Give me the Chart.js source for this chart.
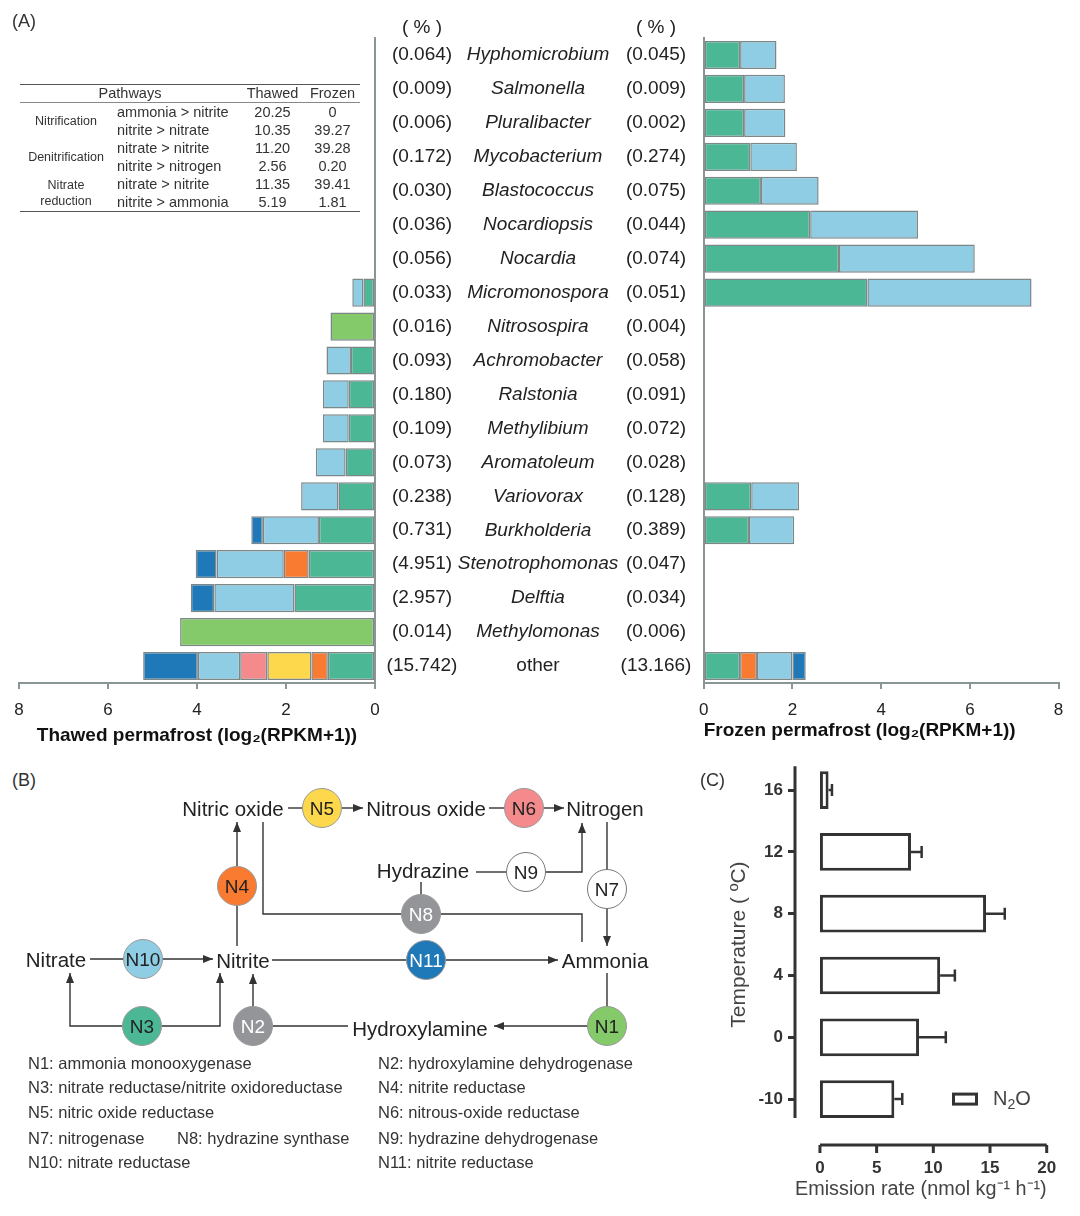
<!DOCTYPE html>
<html>
<head>
<meta charset="utf-8">
<script src="https://cdn.jsdelivr.net/npm/chart.js@4.4.1/dist/chart.umd.min.js"></script>
<style>
body { margin: 0; background: #fff; font-family: "Liberation Sans", Arial, sans-serif; color: #222; }
#wrap { position: relative; width: 1080px; height: 1216px; overflow: hidden; }
canvas { position: absolute; }
.panel { position: absolute; font-size: 18px; color: #333; }
#tbl { position: absolute; left: 20px; top: 84px; width: 340px; border-collapse: collapse; font-size: 14.5px; color: #333; z-index: 2; table-layout: fixed; border-bottom: 1.5px solid #555; }
#tbl th { font-weight: normal; height: 17px; line-height: 17px; padding: 0; border-top: 1.5px solid #555; border-bottom: 0.8px solid #888; }
#tbl td { height: 18px; line-height: 18px; padding: 0; text-align: center; white-space: nowrap; }
#tbl td.step { text-align: left; padding-left: 5px; }
#tbl td.grp { font-size: 12.5px; line-height: 16px; white-space: pre-line; vertical-align: middle; }
#diag { position: absolute; left: 0; top: 0; z-index: 3; }
</style>
</head>
<body>
<div id="wrap">
  <canvas id="thawed" width="695" height="760" style="left:0;top:0"></canvas>
  <canvas id="frozen" width="392" height="760" style="left:688px;top:0"></canvas>
  <canvas id="emis" width="380" height="472" style="left:700px;top:744px"></canvas>
  <div class="panel" style="left:12px;top:11px">(A)</div>
  <div class="panel" style="left:12px;top:770px">(B)</div>
  <div class="panel" style="left:700px;top:770px">(C)</div>
  <table id="tbl">
    <colgroup><col style="width:92px"><col style="width:128px"><col style="width:65px"><col style="width:55px"></colgroup>
    <thead><tr><th colspan="2">Pathways</th><th>Thawed</th><th>Frozen</th></tr></thead>
    <tbody id="tbody"></tbody>
  </table>

  <svg id="diag" width="690" height="1216" font-family="Liberation Sans, Arial, sans-serif">
    <defs>
      <marker id="ah" viewBox="0 0 10 8" refX="10" refY="4" markerWidth="10" markerHeight="8" markerUnits="userSpaceOnUse" orient="auto">
        <path d="M0,0L10,4L0,8z" fill="#333"/>
      </marker>
    </defs>
    <g stroke="#333" stroke-width="1.4" fill="none">
      <line x1="288" y1="808" x2="303" y2="808"/>
      <line x1="341" y1="808" x2="363" y2="808" marker-end="url(#ah)"/>
      <line x1="489" y1="808" x2="505" y2="808"/>
      <line x1="543" y1="808" x2="564" y2="808" marker-end="url(#ah)"/>
      <line x1="237" y1="946" x2="237" y2="906"/>
      <line x1="237" y1="866" x2="237" y2="822" marker-end="url(#ah)"/>
      <polyline points="263,822 263,914 402,914"/>
      <polyline points="440,914 582,914 582,942"/>
      <line x1="421" y1="882" x2="421" y2="895"/>
      <line x1="476" y1="872" x2="507" y2="872"/>
      <polyline points="545,872 582,872 582,823" marker-end="url(#ah)"/>
      <line x1="607" y1="822" x2="607" y2="870"/>
      <line x1="607" y1="908" x2="607" y2="946" marker-end="url(#ah)"/>
      <line x1="90" y1="959" x2="124" y2="959"/>
      <line x1="162" y1="959" x2="213" y2="959" marker-end="url(#ah)"/>
      <line x1="272" y1="960" x2="407" y2="960"/>
      <line x1="445" y1="960" x2="558" y2="960" marker-end="url(#ah)"/>
      <line x1="607" y1="973" x2="607" y2="1007"/>
      <line x1="588" y1="1026" x2="494" y2="1026" marker-end="url(#ah)"/>
      <line x1="348" y1="1026" x2="272" y2="1026"/>
      <line x1="253" y1="1007" x2="253" y2="974" marker-end="url(#ah)"/>
      <polyline points="123,1026 70,1026 70,973" marker-end="url(#ah)"/>
      <polyline points="161,1026 220,1026 220,973" marker-end="url(#ah)"/>
    </g>
    <g stroke="#999" stroke-width="1">
      <circle cx="322" cy="808" r="19.5" fill="#fdd84d"/>
      <circle cx="524" cy="808" r="19.5" fill="#f48a8c"/>
      <circle cx="237" cy="886" r="19.5" fill="#f97a31"/>
      <circle cx="421" cy="914" r="19.5" fill="#939598"/>
      <circle cx="526" cy="872" r="19.5" fill="#fff" stroke="#777"/>
      <circle cx="607" cy="889" r="19.5" fill="#fff" stroke="#777"/>
      <circle cx="143" cy="959" r="19.5" fill="#8ecde4"/>
      <circle cx="426" cy="960" r="19.5" fill="#1f78b8"/>
      <circle cx="607" cy="1026" r="19.5" fill="#84c96a"/>
      <circle cx="253" cy="1026" r="19.5" fill="#939598"/>
      <circle cx="142" cy="1026" r="19.5" fill="#4cb795"/>
    </g>
    <g font-size="19" text-anchor="middle" dominant-baseline="central" fill="#222">
      <text x="322" y="808">N5</text>
      <text x="524" y="808">N6</text>
      <text x="237" y="886">N4</text>
      <text x="421" y="914" fill="#fff">N8</text>
      <text x="526" y="872">N9</text>
      <text x="607" y="889">N7</text>
      <text x="143" y="959">N10</text>
      <text x="426" y="960" fill="#fff">N11</text>
      <text x="607" y="1026">N1</text>
      <text x="253" y="1026" fill="#fff">N2</text>
      <text x="142" y="1026">N3</text>
    </g>
    <g font-size="20.5" text-anchor="middle" dominant-baseline="central" fill="#222">
      <text x="233" y="808">Nitric oxide</text>
      <text x="426" y="808">Nitrous oxide</text>
      <text x="605" y="808">Nitrogen</text>
      <text x="423" y="870">Hydrazine</text>
      <text x="56" y="959">Nitrate</text>
      <text x="243" y="960">Nitrite</text>
      <text x="605" y="960">Ammonia</text>
      <text x="420" y="1028">Hydroxylamine</text>
    </g>
    <g font-size="16.5" dominant-baseline="central" fill="#333">
      <text x="28" y="1063">N1: ammonia monooxygenase</text>
      <text x="28" y="1087">N3: nitrate reductase/nitrite oxidoreductase</text>
      <text x="28" y="1112">N5: nitric oxide reductase</text>
      <text x="28" y="1138">N7: nitrogenase</text>
      <text x="177" y="1138">N8: hydrazine synthase</text>
      <text x="28" y="1162">N10: nitrate reductase</text>
      <text x="378" y="1063">N2: hydroxylamine dehydrogenase</text>
      <text x="378" y="1087">N4: nitrite reductase</text>
      <text x="378" y="1112">N6: nitrous-oxide reductase</text>
      <text x="378" y="1138">N9: hydrazine dehydrogenase</text>
      <text x="378" y="1162">N11: nitrite reductase</text>
    </g>
  </svg>
</div>

<script>
// ---- panel A data ----
const genera = ["Hyphomicrobium", "Salmonella", "Pluralibacter", "Mycobacterium", "Blastococcus",
  "Nocardiopsis", "Nocardia", "Micromonospora", "Nitrosospira", "Achromobacter", "Ralstonia",
  "Methylibium", "Aromatoleum", "Variovorax", "Burkholderia", "Stenotrophomonas", "Delftia",
  "Methylomonas", "other"];
const thawedShare = ["0.064", "0.009", "0.006", "0.172", "0.030", "0.036", "0.056", "0.033", "0.016",
  "0.093", "0.180", "0.109", "0.073", "0.238", "0.731", "4.951", "2.957", "0.014", "15.742"];
const frozenShare = ["0.045", "0.009", "0.002", "0.274", "0.075", "0.044", "0.074", "0.051", "0.004",
  "0.058", "0.091", "0.072", "0.028", "0.128", "0.389", "0.047", "0.034", "0.006", "13.166"];

// log2(RPKM+1), one array per enzyme
const thawedN3 = [null, null, null, null, null, null, null, 0.26, null, 0.54, 0.59, 0.59, 0.66, 0.82, 1.26, 1.49, 1.81, null, 1.06];
const thawedN4 = [null, null, null, null, null, null, null, null, null, null, null, null, null, null, null, 0.56, null, null, 0.37];
const thawedN5 = [null, null, null, null, null, null, null, null, null, null, null, null, null, null, null, null, null, null, 0.99];
const thawedN6 = [null, null, null, null, null, null, null, null, null, null, null, null, null, null, null, null, null, null, 0.61];
const thawedN10 = [null, null, null, null, null, null, null, 0.25, null, 0.55, 0.58, 0.58, 0.67, 0.84, 1.26, 1.51, 1.80, null, 0.95];
const thawedN11 = [null, null, null, null, null, null, null, null, null, null, null, null, null, null, 0.26, 0.47, 0.53, null, 1.23];
const thawedN1 = [null, null, null, null, null, null, null, null, 1.00, null, null, null, null, null, null, null, null, 4.38, null];

const frozenN3 = [0.82, 0.91, 0.91, 1.05, 1.29, 2.40, 3.05, 3.69, null, null, null, null, null, 1.07, 1.02, null, null, null, 0.82];
const frozenN4 = [null, null, null, null, null, null, null, null, null, null, null, null, null, null, null, null, null, null, 0.38];
const frozenN10 = [0.82, 0.92, 0.93, 1.05, 1.30, 2.43, 3.06, 3.70, null, null, null, null, null, 1.08, 1.02, null, null, null, 0.80];
const frozenN11 = [null, null, null, null, null, null, null, null, null, null, null, null, null, null, null, null, null, null, 0.30];

const xTicksA = [0, 2, 4, 6, 8];

// ---- pathway table ----
const pathwayGroups = ["Nitrification", "Denitrification", "Nitrate\nreduction"];
const pathwaySteps = ["ammonia > nitrite", "nitrite > nitrate", "nitrate > nitrite", "nitrite > nitrogen", "nitrate > nitrite", "nitrite > ammonia"];
const pathwayThawed = ["20.25", "10.35", "11.20", "2.56", "11.35", "5.19"];
const pathwayFrozen = ["0", "39.27", "39.28", "0.20", "39.41", "1.81"];

// ---- panel C data ----
const temps = ["16", "12", "8", "4", "0", "-10"];
const emission = [0.76, 8.03, 14.65, 10.6, 8.74, 6.56];
const emissionErr = [0.3, 0.94, 1.65, 1.3, 2.36, 0.7];
const xTicksC = [0, 5, 10, 15, 20];

const FONT = '"Liberation Sans", Arial, sans-serif';
Chart.defaults.font.family = FONT;
Chart.defaults.color = "#222";
const axisGray = "#8a9596";
const segBorder = "#7d8788";
const enzymeColor = { N3: "#4cb795", N4: "#f97a31", N5: "#fdd84d", N6: "#f48a8c", N10: "#8ecde4", N11: "#1f78b8", N1: "#84c96a" };

// table rows
const tbody = document.getElementById("tbody");
pathwaySteps.forEach((step, i) => {
  const tr = document.createElement("tr");
  if (i % 2 === 0) {
    const g = document.createElement("td");
    g.rowSpan = 2;
    g.className = "grp";
    g.textContent = pathwayGroups[i / 2];
    tr.appendChild(g);
  }
  [step, pathwayThawed[i], pathwayFrozen[i]].forEach((txt, j) => {
    const td = document.createElement("td");
    if (j === 0) td.className = "step";
    td.textContent = txt;
    tr.appendChild(td);
  });
  tbody.appendChild(tr);
});

const makeSet = (label, data) => ({
  label: label,
  data: data,
  backgroundColor: enzymeColor[label],
  borderColor: segBorder,
  borderWidth: 1.5,
  borderSkipped: false,
  barPercentage: 0.83,
  categoryPercentage: 1,
});

// genus names and percentages between the two charts
const middleLabels = {
  id: "middleLabels",
  afterDraw(chart) {
    const ctx = chart.ctx;
    const y = chart.scales.y;
    ctx.save();
    ctx.fillStyle = "#222";
    ctx.textAlign = "center";
    ctx.textBaseline = "middle";
    ctx.font = "19px " + FONT;
    ctx.fillText("( % )", 422, 28);
    ctx.fillText("( % )", 656, 28);
    genera.forEach((g, i) => {
      const py = y.getPixelForValue(i);
      ctx.font = "19px " + FONT;
      ctx.fillText("(" + thawedShare[i] + ")", 422, py);
      ctx.fillText("(" + frozenShare[i] + ")", 656, py);
      ctx.font = (g === "other" ? "" : "italic ") + "19px " + FONT;
      ctx.fillText(g, 538, py);
    });
    ctx.restore();
  },
};

const permafrostOptions = (reverse, title, padding, titleH, titleAlign) => ({
  indexAxis: "y",
  responsive: false,
  animation: false,
  layout: { padding: padding },
  plugins: { legend: { display: false }, tooltip: { enabled: false } },
  scales: {
    x: {
      stacked: true,
      reverse: reverse,
      min: 0,
      max: 8,
      afterBuildTicks: (s) => { s.ticks = xTicksA.map((v) => ({ value: v })); },
      ticks: { color: "#222", font: { size: 17 }, padding: 11 },
      grid: { drawOnChartArea: false, color: axisGray, lineWidth: 2, tickLength: 6 },
      border: { color: axisGray, width: 2 },
      title: { display: true, text: title, align: titleAlign, color: "#111", font: { size: 19, weight: "bold" }, padding: 0 },
      afterFit: (s) => { s.height = titleH; },
    },
    y: {
      stacked: true,
      position: reverse ? "right" : "left",
      ticks: { display: false },
      grid: { display: false },
      border: { color: axisGray, width: 2 },
      afterFit: (s) => { s.width = 0; },
    },
  },
});

new Chart(document.getElementById("thawed"), {
  type: "bar",
  data: {
    labels: genera,
    datasets: [
      makeSet("N3", thawedN3), makeSet("N4", thawedN4), makeSet("N5", thawedN5), makeSet("N6", thawedN6),
      makeSet("N10", thawedN10), makeSet("N11", thawedN11), makeSet("N1", thawedN1),
    ],
  },
  options: permafrostOptions(true, "Thawed permafrost (log₂(RPKM+1))", { left: 19, right: 320, top: 38, bottom: 13 }, 64, "center"),
  plugins: [middleLabels],
});

new Chart(document.getElementById("frozen"), {
  type: "bar",
  data: {
    labels: genera,
    datasets: [makeSet("N3", frozenN3), makeSet("N4", frozenN4), makeSet("N10", frozenN10), makeSet("N11", frozenN11)],
  },
  options: permafrostOptions(false, "Frozen permafrost (log₂(RPKM+1))", { left: 13, right: 21.4, top: 38, bottom: 18 }, 59, "start"),
});

// panel C: offset axes, error bars and legend
const emisExtras = {
  id: "emisExtras",
  afterDraw(chart) {
    const { ctx, chartArea: a, scales } = chart;
    const x = scales.x, y = scales.y;
    ctx.save();
    ctx.strokeStyle = "#333";
    ctx.lineWidth = 3;
    ctx.beginPath();
    ctx.moveTo(a.left, a.top + 7);
    ctx.lineTo(a.left, a.bottom - 12);
    ctx.stroke();

    const yb = a.bottom + 15;
    ctx.beginPath();
    ctx.moveTo(x.getPixelForValue(xTicksC[0]), yb);
    ctx.lineTo(x.getPixelForValue(xTicksC[xTicksC.length - 1]), yb);
    xTicksC.forEach((v) => {
      const px = x.getPixelForValue(v);
      ctx.moveTo(px, yb);
      ctx.lineTo(px, yb + 8);
    });
    ctx.stroke();

    ctx.lineWidth = 2.5;
    emission.forEach((v, i) => {
      const py = y.getPixelForValue(i);
      const x0 = x.getPixelForValue(v);
      const x1 = x.getPixelForValue(v + emissionErr[i]);
      ctx.beginPath();
      ctx.moveTo(x0, py);
      ctx.lineTo(x1, py);
      ctx.moveTo(x1, py - 6);
      ctx.lineTo(x1, py + 6);
      ctx.stroke();
    });

    // legend
    ctx.lineWidth = 3;
    const ly = y.getPixelForValue(temps.length - 1);
    ctx.strokeRect(253.5, ly - 5, 23, 10);
    ctx.fillStyle = "#444";
    ctx.textBaseline = "middle";
    ctx.font = "20px " + FONT;
    let tx = 293;
    ctx.fillText("N", tx, ly);
    tx += ctx.measureText("N").width;
    ctx.font = "14px " + FONT;
    ctx.fillText("2", tx, ly + 6);
    tx += ctx.measureText("2").width;
    ctx.font = "20px " + FONT;
    ctx.fillText("O", tx, ly);
    ctx.restore();
  },
};

new Chart(document.getElementById("emis"), {
  type: "bar",
  data: {
    labels: temps,
    datasets: [{
      label: "N₂O",
      data: emission,
      backgroundColor: "#fff",
      borderColor: "#333",
      borderWidth: 3,
      borderSkipped: false,
      barPercentage: 0.61,
      categoryPercentage: 1,
    }],
  },
  options: {
    indexAxis: "y",
    responsive: false,
    animation: false,
    layout: { padding: { left: 27, right: 33.3, top: 8, bottom: 15 } },
    plugins: { legend: { display: false }, tooltip: { enabled: false } },
    scales: {
      x: {
        min: -2.2,
        max: 20,
        afterBuildTicks: (s) => { s.ticks = xTicksC.map((v) => ({ value: v })); },
        ticks: { color: "#333", font: { size: 17, weight: "bold" }, padding: 20 },
        grid: { display: false },
        border: { display: false },
        title: { display: true, text: "Emission rate (nmol kg⁻¹ h⁻¹)", color: "#444", font: { size: 20 }, padding: 0 },
        afterFit: (s) => { s.height = 71; },
      },
      y: {
        ticks: { color: "#333", font: { size: 17, weight: "bold" }, padding: 5 },
        grid: { drawOnChartArea: false, offset: false, color: "#333", lineWidth: 3, tickLength: 7 },
        border: { display: false },
        title: { display: true, text: "Temperature ( ºC)", color: "#444", font: { size: 21 }, padding: 0 },
        afterFit: (s) => { s.width = 68; },
      },
    },
  },
  plugins: [emisExtras],
});
</script>
</body>
</html>
